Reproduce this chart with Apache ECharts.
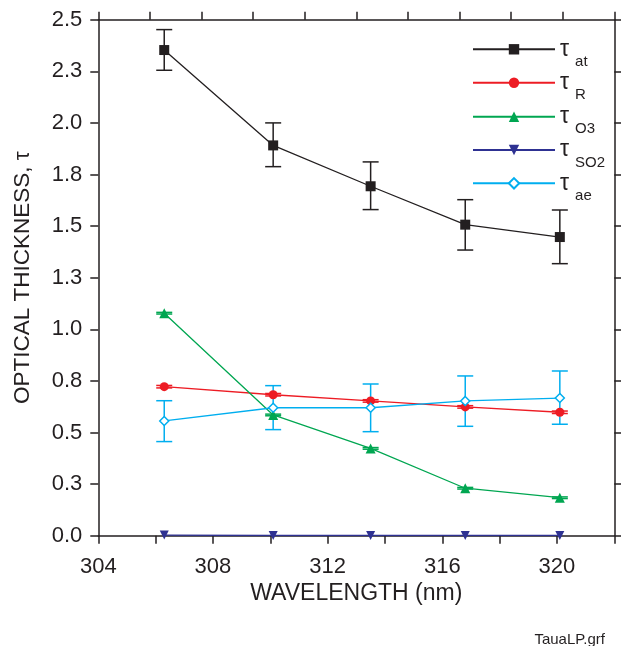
<!DOCTYPE html>
<html>
<head>
<meta charset="utf-8">
<script src="https://cdn.jsdelivr.net/npm/echarts@6/dist/echarts.min.js"></script>
<style>html,body{margin:0;padding:0;background:#fff}#c{width:621px;height:646px}</style>
</head>
<body>
<div id="c"></div>
<script>
// ---- data ----
const wavelengths = [306.3, 310.1, 313.5, 316.8, 320.1];
const tauAt      = [2.353, 1.891, 1.693, 1.507, 1.447];
const tauAtLow   = [2.255, 1.788, 1.580, 1.384, 1.318];
const tauAtHigh  = [2.452, 2.000, 1.811, 1.628, 1.578];
const tauR       = [0.722, 0.683, 0.653, 0.624, 0.598];
const tauRLow    = [0.716, 0.677, 0.647, 0.618, 0.592];
const tauRHigh   = [0.728, 0.689, 0.659, 0.630, 0.604];
const tauO3      = [1.078, 0.585, 0.423, 0.230, 0.184];
const tauO3Low   = [1.074, 0.581, 0.419, 0.226, 0.180];
const tauO3High  = [1.082, 0.589, 0.427, 0.234, 0.188];
const tauSO2     = [0.003, 0.001, 0.001, 0.001, 0.001];
const tauAe      = [0.556, 0.620, 0.620, 0.653, 0.667];
const tauAeLow   = [0.456, 0.514, 0.504, 0.530, 0.540];
const tauAeHigh  = [0.654, 0.727, 0.735, 0.774, 0.798];
const seriesNames = ['at', 'R', 'O3', 'SO2', 'ae'];
const xTicks = [304, 308, 312, 316, 320];

const FONT = 'Liberation Sans, Arial, Helvetica, sans-serif';
const INK = '#231f20';
const C = {at: '#231f20', R: '#ed1c24', O3: '#00a651', SO2: '#2e3192', ae: '#00aeef'};

const pairs = (ys) => wavelengths.map((x, i) => [x, ys[i]]);
const triples = (lo, hi) => wavelengths.map((x, i) => [x, lo[i], hi[i]]);

function errRender(color, cap) {
  return function (params, api) {
    const x = api.value(0);
    const lo = api.coord([x, api.value(1)]);
    const hi = api.coord([x, api.value(2)]);
    const style = {stroke: color, lineWidth: 1.5, fill: null};
    return {type: 'group', children: [
      {type: 'line', shape: {x1: lo[0], y1: lo[1], x2: hi[0], y2: hi[1]}, style},
      {type: 'line', shape: {x1: lo[0] - cap, y1: lo[1], x2: lo[0] + cap, y2: lo[1]}, style},
      {type: 'line', shape: {x1: hi[0] - cap, y1: hi[1], x2: hi[0] + cap, y2: hi[1]}, style}
    ]};
  };
}

function lineSeries(key, ys, symbol, size, extra) {
  return Object.assign({
    name: key, type: 'line', data: pairs(ys), symbol: symbol, symbolSize: size,
    lineStyle: {color: C[key], width: 1.3},
    itemStyle: {color: C[key]},
    z: 5, animation: false
  }, extra || {});
}
function errSeries(key, lo, hi, cap) {
  return {
    type: 'custom', data: triples(lo, hi), encode: {x: 0, y: [1, 2]},
    renderItem: errRender(C[key], cap), z: 3, animation: false, silent: true
  };
}

const rich = {
  t: {fontSize: 23, lineHeight: 23, color: INK, fontFamily: FONT},
  s: {fontSize: 15, lineHeight: 15, padding: [25, 0, 0, 6], color: INK, fontFamily: FONT}
};
const rowCenters = [49.3, 82.7, 116.7, 150, 183.3];
const legends = seriesNames.map((n, i) => ({
  data: [n], left: 472, top: rowCenters[i] - 20, orient: 'vertical',
  itemWidth: 82, itemHeight: 13, itemGap: 0, padding: 0,
  formatter: (name) => '{t|τ}{s|' + name + '}',
  textStyle: {rich: rich}, selectedMode: false
}));

const axisLine = {show: true, onZero: false, lineStyle: {color: INK, width: 1.5}};
const axisTick = {show: true, inside: false, length: 8, lineStyle: {color: INK, width: 1.5}};

const option = {
  backgroundColor: '#fff',
  animation: false,
  grid: {left: 98.3, right: 6.7, top: 19.7, bottom: 110.3, containLabel: false},
  legend: legends,
  xAxis: [{
    type: 'value', min: 304, max: 322, interval: 2, position: 'bottom',
    axisLine, axisTick, splitLine: {show: false},
    axisLabel: {fontSize: 22, color: INK, fontFamily: FONT, margin: 20,
      formatter: (v) => xTicks.includes(v) ? String(v) : ''},
    name: 'WAVELENGTH (nm)', nameLocation: 'middle', nameGap: 45,
    nameTextStyle: {fontSize: 23, color: INK, fontFamily: FONT}
  }, {
    type: 'value', min: 0, max: 10, interval: 1, position: 'top',
    axisLine, axisTick, splitLine: {show: false}, axisLabel: {show: false}
  }],
  yAxis: [{
    type: 'value', min: 0, max: 2.5, interval: 0.25, position: 'left',
    axisLine, axisTick, splitLine: {show: false},
    axisLabel: {fontSize: 22, color: INK, fontFamily: FONT, margin: 16,
      formatter: (v) => v.toFixed(1)},
    name: 'OPTICAL THICKNESS, τ', nameLocation: 'middle', nameGap: 64,
    nameTextStyle: {fontSize: 22.5, color: INK, fontFamily: FONT}
  }, {
    type: 'value', min: 0, max: 2.5, interval: 0.25, position: 'right',
    axisLine, axisTick, splitLine: {show: false}, axisLabel: {show: false}
  }],
  graphic: [{
    type: 'text', right: 16, top: 632,
    style: {text: 'TauaLP.grf', fontSize: 15, fill: INK, fontFamily: FONT}
  }],
  series: [
    errSeries('at', tauAtLow, tauAtHigh, 8),
    errSeries('R', tauRLow, tauRHigh, 8),
    errSeries('O3', tauO3Low, tauO3High, 8),
    errSeries('ae', tauAeLow, tauAeHigh, 8),
    lineSeries('at', tauAt, 'rect', 10),
    lineSeries('R', tauR, 'circle', 9),
    lineSeries('O3', tauO3, 'triangle', 10),
    lineSeries('SO2', tauSO2, 'triangle', 9, {symbolRotate: 180}),
    lineSeries('ae', tauAe, 'diamond', 9, {itemStyle: {color: '#fff', borderColor: C.ae, borderWidth: 1.5}})
  ]
};

const chart = echarts.init(document.getElementById('c'), null, {renderer: 'canvas'});
chart.setOption(option);
</script>
</body>
</html>
